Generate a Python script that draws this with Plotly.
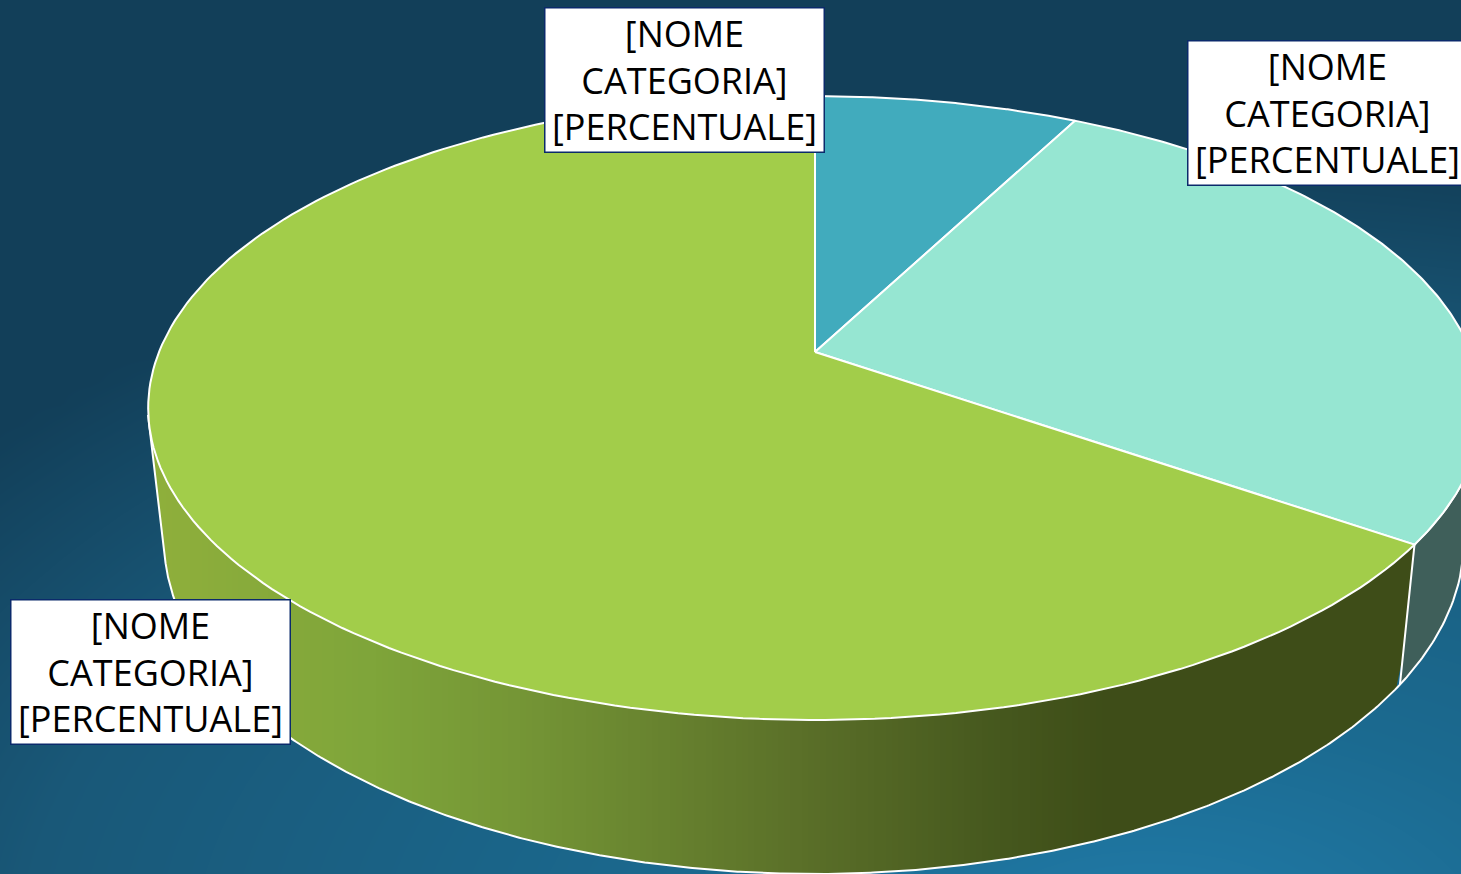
import numpy as np
import plotly.graph_objects as go

# Slices, clockwise from the top
categories = ["Categoria 1", "Categoria 2", "Categoria 3"]
shares = [7.6, 27.1, 65.3]
top_colors = ["#41ABBD", "#96E6D2", "#A2CD4A"]
label_text = "[NOME<br>CATEGORIA]<br>[PERCENTUALE]"

W, H = 1461, 874

# top face: circle seen in perspective
CX, CY = 815, 352
A, B, K = 656, 301.9, 0.1795
# bottom rim ellipse
LOW_X, LOW_Y, LOW_A, LOW_B = 814, 540, 650, 334
VANISH = (815, 6300)


def rim(frac):
    t = 2 * np.pi * np.asarray(frac, dtype=float)
    u, v = np.sin(t), np.cos(t)
    return CX + A * u / (1 + K * v), CY - B * v / (1 + K * v)


def top_lower_edge(x):
    # lower branch of the top face outline
    return 408 + 312 * np.sqrt(np.clip(1 - ((x - 815) / 667) ** 2, 0, 1))


def low_edge(x):
    return LOW_Y + LOW_B * np.sqrt(np.clip(1 - ((x - LOW_X) / LOW_A) ** 2, 0, 1))


def drop(x, y):
    # follow the vertical edge down until it leaves the bottom rim
    ts = np.linspace(0, 0.1, 2001)
    xs = x + ts * (VANISH[0] - x)
    ys = y + ts * (VANISH[1] - y)
    inside = ((xs - LOW_X) / LOW_A) ** 2 + ((ys - LOW_Y) / LOW_B) ** 2 < 1
    i = np.argmax(ys * inside)
    return xs[i], ys[i]


fig = go.Figure()

# Background: dark, with a glow from the bottom right
gx = np.linspace(0, W, 50)
gy = np.linspace(0, H, 40)
xx, yy = np.meshgrid(gx, gy)
bg = np.clip(1 - np.sqrt(((xx - 1150) / 1500) ** 2 + ((yy - 950) / 800) ** 2), 0, 1)
fig.add_trace(go.Heatmap(x=gx, y=gy, z=bg, zmin=0, zmax=1, zsmooth="best", showscale=False,
                         colorscale=[[0, "#123F59"], [0.25, "#195878"], [0.7, "#1B6A90"], [1, "#217CAA"]],
                         hoverinfo="skip"))

ends = np.cumsum(shares) / np.sum(shares)
starts = np.concatenate([[0], ends[:-1]])

# Walls: mint piece on the right, then green strips
edge_x, edge_y = rim(ends[1])
foot_x, foot_y = drop(edge_x, edge_y)

f_up = np.linspace(ends[1], 0.25, 60)
up_x, up_y = rim(f_up)
wall_lx = np.linspace(W + 40, foot_x, 60)
fig.add_trace(go.Scatter(x=list(up_x) + list(wall_lx), y=list(up_y) + list(low_edge(wall_lx)),
                         mode="lines", fill="toself", fillcolor="#3F5F5A",
                         line=dict(color="white", width=2), hoverinfo="skip", showlegend=False))

# left silhouette: straight line from the top face to the bottom rim
sx = np.linspace(LOW_X - LOW_A, 400, 400)
sy = low_edge(sx)
tan_i = np.argmin((sx - 148) / (sy - 415))
tan_x, tan_y = sx[tan_i], sy[tan_i]


def wall_bottom(x):
    y = np.where(x < tan_x, 415 + (x - 148) * (tan_y - 415) / (tan_x - 148), low_edge(x))
    # cut against the edge between green and mint
    line = foot_y + (x - foot_x) * (edge_y - foot_y) / (edge_x - foot_x)
    return np.where(x > foot_x, np.minimum(y, line), y)


stop_x = [148, 373, 520, 800, 1000, 1110, 1420]
stop_r = [144, 127, 117, 91, 70, 62, 62]
stop_g = [176, 165, 150, 112, 88, 77, 77]
stop_b = [60, 58, 54, 41, 30, 24, 24]
edges = np.arange(148, edge_x + 6, 6.0)
edges[-1] = edge_x
for x0, x1 in zip(edges[:-1], edges[1:]):
    mid = (x0 + x1) / 2
    col = "rgb(%d,%d,%d)" % (np.interp(mid, stop_x, stop_r), np.interp(mid, stop_x, stop_g),
                             np.interp(mid, stop_x, stop_b))
    sxs = np.array([x0, x1 + 0.8])
    fig.add_trace(go.Scatter(x=[sxs[0], sxs[1], sxs[1], sxs[0]],
                             y=[top_lower_edge(sxs[0]) - 4, top_lower_edge(sxs[1]) - 4,
                                wall_bottom(sxs[1]), wall_bottom(sxs[0])],
                             mode="lines", fill="toself", fillcolor=col, line=dict(width=0),
                             hoverinfo="skip", showlegend=False))

# outline of the wall
ox = np.linspace(148, foot_x, 500)
fig.add_trace(go.Scatter(x=list(ox) + [edge_x], y=list(wall_bottom(ox)) + [edge_y], mode="lines",
                         line=dict(color="white", width=2), hoverinfo="skip", showlegend=False))

# Top face
for name, start, end, color in zip(categories, starts, ends, top_colors):
    arc_x, arc_y = rim(np.linspace(start, end, 200))
    fig.add_trace(go.Scatter(x=[CX] + list(arc_x) + [CX], y=[CY] + list(arc_y) + [CY],
                             mode="lines", fill="toself", fillcolor=color, name=name,
                             line=dict(color="white", width=2), hoverinfo="name",
                             showlegend=False))

# Labels
for lx, ly in [(684, 80), (1327, 112.5), (150, 671.5)]:
    fig.add_annotation(x=lx, y=ly, text=label_text, showarrow=False, width=276, height=141,
                       align="center", valign="middle", bgcolor="white", bordercolor="#0B2A6B",
                       borderwidth=1.5, font=dict(family="Open Sans", size=36, color="black"))

fig.update_layout(
    width=W, height=H, margin=dict(l=0, r=0, t=0, b=0), showlegend=False,
    paper_bgcolor="#123F59", plot_bgcolor="#123F59",
    xaxis=dict(range=[0, W], visible=False, fixedrange=True),
    yaxis=dict(range=[H, 0], visible=False, fixedrange=True),
)

fig.write_html("out.html", config={"displayModeBar": False},
               post_script="document.body.style.margin='0';")
